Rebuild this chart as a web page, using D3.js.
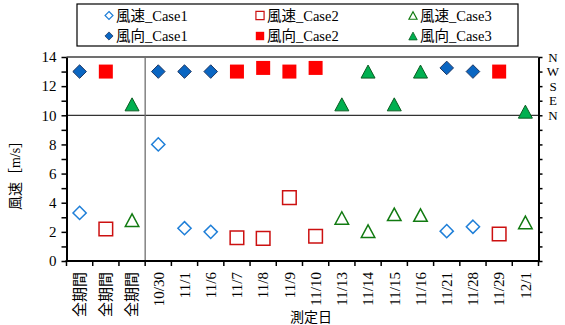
<!DOCTYPE html>
<html>
<head>
<meta charset="utf-8">
<script src="https://cdn.jsdelivr.net/npm/d3@7"></script>
<style>
  html, body { margin: 0; padding: 0; background: #fff; }
  svg { display: block; }
  text { font-family: "Liberation Serif", "Noto Sans CJK JP", serif; fill: #000; }
</style>
</head>
<body>
<svg id="chart" width="565" height="325"></svg>
<script>
// Measurement days (the first three columns are whole-period summaries)
const categories = ["全期間", "全期間", "全期間", "10/30", "11/1", "11/6", "11/7", "11/8", "11/9",
  "11/10", "11/13", "11/14", "11/15", "11/16", "11/21", "11/28", "11/29", "12/1"];

// Wind speed [m/s] per case (null = not measured that day)
const speedCase1 = [3.3, null, null, 8.0, 2.25, 2.0, null, null, null, null, null, null, null, null, 2.05, 2.35, null, null];
const speedCase2 = [null, 2.2, null, null, null, null, 1.6, 1.55, 4.35, 1.7, null, null, null, null, null, null, 1.85, null];
const speedCase3 = [null, null, 2.8, null, null, null, null, null, null, null, 2.95, 2.05, 3.2, 3.15, null, null, null, 2.65];

// Wind direction on the 10–14 band (10 = N, 11 = E, 12 = S, 13 = W, 14 = N)
const dirCase1 = [13, null, null, 13, 13, 13, null, null, null, null, null, null, null, null, 13.25, 13, null, null];
const dirCase2 = [null, 13, null, null, null, null, 13, 13.25, 13, 13.25, null, null, null, null, null, null, 13, null];
const dirCase3 = [null, null, 10.75, null, null, null, null, null, null, null, 10.75, 13, 10.75, 13, null, null, null, 10.25];

const yTicks = [0, 2, 4, 6, 8, 10, 12, 14];
const compassLabels = ["N", "W", "S", "E", "N"];
const compassValues = [14, 13, 12, 11, 10];

const svg = d3.select("#chart");
const m = { left: 66.5, right: 538.5, top: 57, bottom: 261 };

const x = d3.scaleBand().domain(d3.range(categories.length)).range([m.left, m.right]).padding(0);
const y = d3.scaleLinear().domain([0, 14]).range([m.bottom, m.top]);

// Marker path builders (centered on the point)
const diamondPath = r => `M0,${-r}L${r},0L0,${r}L${-r},0Z`;
const squarePath = h => `M${-h},${-h}H${h}V${h}H${-h}Z`;
const trianglePath = (w, h) => `M0,${-h / 2}L${w / 2},${h / 2}L${-w / 2},${h / 2}Z`;

const styles = {
  spd1: { d: diamondPath(6.6), fill: "#fff", stroke: "#1F7FD8", sw: 1.5 },
  spd2: { d: squarePath(6.8), fill: "#fff", stroke: "#CC1010", sw: 1.5 },
  spd3: { d: trianglePath(13.5, 12.5), fill: "#fff", stroke: "#117A11", sw: 1.5 },
  dir1: { d: diamondPath(6.8), fill: "#0A66C2", stroke: "#1F3864", sw: 1 },
  dir2: { d: squarePath(7), fill: "#FF0000", stroke: "none", sw: 0 },
  dir3: { d: trianglePath(14, 13), fill: "#00B050", stroke: "#0B5D22", sw: 1 }
};

// Plot frame top edge
svg.append("line").attr("x1", m.left).attr("x2", m.right).attr("y1", m.top).attr("y2", m.top)
  .attr("stroke", "#404040").attr("stroke-width", 1.3);

// Reference line at 10 separating speed and direction bands
svg.append("line").attr("x1", m.left).attr("x2", m.right).attr("y1", y(10)).attr("y2", y(10))
  .attr("stroke", "#333").attr("stroke-width", 1.2);

// Separator between summary columns and daily columns
svg.append("line").attr("x1", x(3)).attr("x2", x(3)).attr("y1", m.top).attr("y2", m.bottom)
  .attr("stroke", "#707070").attr("stroke-width", 1.3);

// Left axis
const yLeft = svg.append("g").attr("transform", `translate(${m.left},0)`)
  .call(d3.axisLeft(y).tickValues(d3.range(0, 15)).tickSize(5).tickSizeOuter(0)
    .tickFormat(d => yTicks.includes(d) ? d : ""));
yLeft.select(".domain").attr("stroke", "#000").attr("stroke-width", 2);
yLeft.selectAll(".tick line").attr("stroke", "#000").attr("stroke-width", 1.5);
yLeft.selectAll(".tick text").attr("font-size", 15).attr("x", -10)
  .style("font-family", "'Liberation Serif', serif");

// Right axis (ticks only) with compass labels
const yRight = svg.append("g").attr("transform", `translate(${m.right},0)`)
  .call(d3.axisRight(y).tickValues(d3.range(0, 15)).tickSize(4).tickSizeOuter(0).tickFormat(""));
yRight.select(".domain").attr("stroke", "#000").attr("stroke-width", 2);
yRight.selectAll(".tick line").attr("stroke", "#000").attr("stroke-width", 1.5);

svg.append("g").selectAll("text").data(compassLabels).join("text")
  .attr("x", 553).attr("y", (d, i) => y(compassValues[i]))
  .attr("text-anchor", "middle")
  .attr("dy", "0.35em")
  .attr("font-size", 13)
  .text(d => d);

// Bottom axis: boundary ticks and rotated category labels
const xAxis = svg.append("g").attr("transform", `translate(0,${m.bottom})`);
xAxis.append("line").attr("x1", m.left - 1).attr("x2", m.right + 1)
  .attr("stroke", "#000").attr("stroke-width", 2);
xAxis.selectAll("line.btick").data(d3.range(categories.length + 1)).join("line")
  .attr("class", "btick")
  .attr("x1", i => i < categories.length ? x(i) : m.right)
  .attr("x2", i => i < categories.length ? x(i) : m.right)
  .attr("y1", 0).attr("y2", 5)
  .attr("stroke", "#000").attr("stroke-width", 1.5);
xAxis.selectAll("text").data(categories).join("text")
  .attr("transform", (d, i) => `translate(${x(i) + x.bandwidth() / 2},11) rotate(-90)`)
  .attr("text-anchor", "end")
  .attr("dy", "0.35em")
  .attr("font-size", 15)
  .text(d => d);

// Axis titles
svg.append("text")
  .attr("transform", `translate(15,172) rotate(-90)`)
  .attr("text-anchor", "middle").attr("dy", "0.35em")
  .attr("font-size", 14)
  .text("風速［m/s］");
svg.append("text")
  .attr("x", 311).attr("y", 322)
  .attr("text-anchor", "middle")
  .attr("font-size", 14)
  .text("測定日");

// Data markers
const series = [
  { values: dirCase1, st: styles.dir1 },
  { values: dirCase2, st: styles.dir2 },
  { values: dirCase3, st: styles.dir3 },
  { values: speedCase1, st: styles.spd1 },
  { values: speedCase2, st: styles.spd2 },
  { values: speedCase3, st: styles.spd3 }
];
series.forEach(s => {
  const pts = s.values.map((v, i) => ({ i, v })).filter(p => p.v !== null);
  svg.append("g").selectAll("path").data(pts).join("path")
    .attr("transform", p => `translate(${x(p.i) + x.bandwidth() / 2},${y(p.v)})`)
    .attr("d", s.st.d)
    .attr("fill", s.st.fill)
    .attr("stroke", s.st.stroke)
    .attr("stroke-width", s.st.sw);
});

// Legend
const legendItems = [
  { label: "風速_Case1", st: styles.spd1 },
  { label: "風速_Case2", st: styles.spd2 },
  { label: "風速_Case3", st: styles.spd3 },
  { label: "風向_Case1", st: styles.dir1 },
  { label: "風向_Case2", st: styles.dir2 },
  { label: "風向_Case3", st: styles.dir3 }
];
const legend = svg.append("g");
legend.append("rect").attr("x", 77).attr("y", 4).attr("width", 441).attr("height", 42)
  .attr("fill", "#fff").attr("stroke", "#000").attr("stroke-width", 1.2);
const colX = [109, 260, 413];
const rowY = [15.5, 36];
const li = legend.selectAll("g.item").data(legendItems).join("g")
  .attr("class", "item")
  .attr("transform", (d, i) => `translate(${colX[i % 3]},${rowY[Math.floor(i / 3)]})`);
li.append("path")
  .attr("d", d => d.st.d)
  .attr("transform", "scale(0.6)")
  .attr("fill", d => d.st.fill)
  .attr("stroke", d => d.st.stroke)
  .attr("stroke-width", d => d.st.sw / 0.6 * 0.8);
li.append("text").attr("x", 7).attr("dy", "0.35em").attr("font-size", 14.5).text(d => d.label);
</script>
</body>
</html>
